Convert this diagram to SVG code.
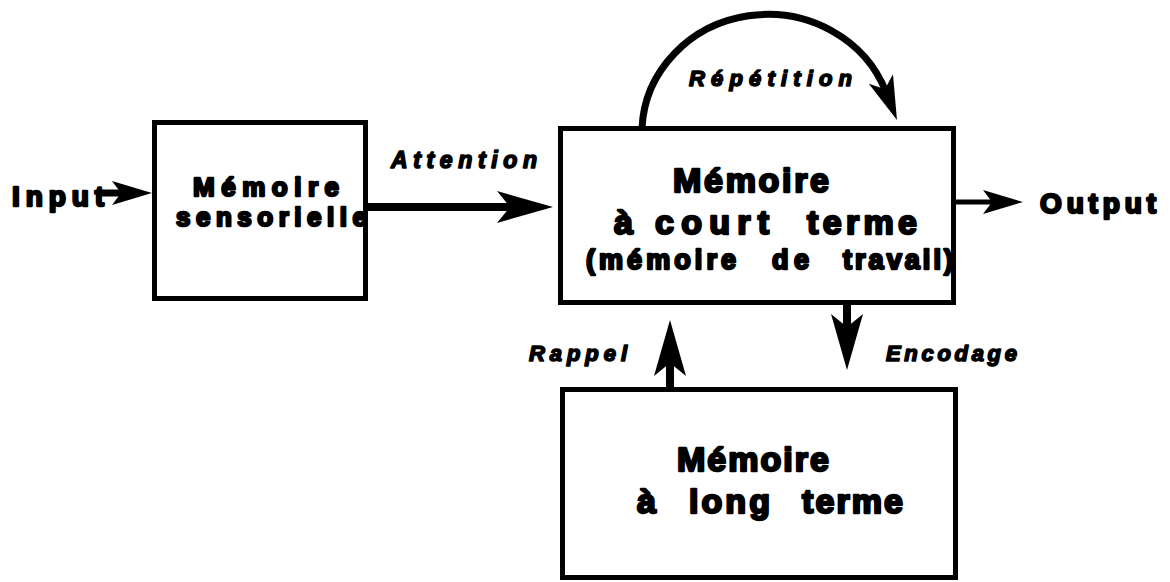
<svg xmlns="http://www.w3.org/2000/svg" width="1170" height="582" viewBox="0 0 1170 582">
<style>
.box{fill:#fff;stroke:#000;stroke-width:5}
.t{font-family:"Liberation Sans",Arial,Helvetica,sans-serif;font-weight:bold;fill:#000;stroke:#000;stroke-width:2.4;stroke-linejoin:round}
.i{font-style:italic;stroke-width:1.6}
.ln{fill:none;stroke:#000}
</style>
<defs>
<marker id="ahBig" markerUnits="userSpaceOnUse" viewBox="0 0 56 32" refX="16" refY="16" markerWidth="56" markerHeight="32" orient="auto">
<path d="M0,0 L56,16 L0,32 L13,16 Z" fill="#000"/>
</marker>
<marker id="ahMid" markerUnits="userSpaceOnUse" viewBox="0 0 44 26" refX="14" refY="13" markerWidth="44" markerHeight="26" orient="auto">
<path d="M0,0 L44,13 L0,26 L11,13 Z" fill="#000"/>
</marker>
<marker id="ahSmall" markerUnits="userSpaceOnUse" viewBox="0 0 40 24" refX="12" refY="12" markerWidth="40" markerHeight="24" orient="auto">
<path d="M0,0 L40,12 L0,24 L9,12 Z" fill="#000"/>
</marker>
</defs>
<rect width="1170" height="582" fill="#fff"/>

<g id="connectors">
<path class="ln" d="M102,193 H124" stroke-width="7" marker-end="url(#ahSmall)"/>
<path class="ln" d="M368,207 H513" stroke-width="8" marker-end="url(#ahBig)"/>
<path class="ln" d="M955,202 H995" stroke-width="5" marker-end="url(#ahSmall)"/>
<path class="ln" d="M642,128 A126,119 0 0 1 886,92" stroke-width="7" marker-end="url(#ahMid)"/>
<path class="ln" d="M847,303 V330" stroke-width="8" marker-end="url(#ahBig)"/>
<path class="ln" d="M670,387 V360" stroke-width="8" marker-end="url(#ahBig)"/>
</g>

<g id="sensory">
<rect class="box" x="154.5" y="122.5" width="211" height="176"/>
<text class="t" font-size="26"><tspan x="193" y="196" textLength="146" lengthAdjust="spacing">Mémoire</tspan><tspan x="176" y="226" textLength="191" lengthAdjust="spacing">sensorielle</tspan></text>
</g>

<g id="stm">
<rect class="box" x="560.5" y="128.5" width="393" height="174"/>
<text class="t" font-size="34"><tspan x="673" y="192" textLength="156" lengthAdjust="spacing">Mémoire</tspan></text>
<text class="t" font-size="34"><tspan x="614" y="234">à</tspan><tspan x="655" y="234" textLength="114" lengthAdjust="spacing">court</tspan><tspan x="807" y="234" textLength="110" lengthAdjust="spacing">terme</tspan></text>
<text class="t" font-size="27"><tspan x="586" y="269" textLength="150" lengthAdjust="spacing">(mémoire</tspan><tspan x="772" y="269" textLength="37" lengthAdjust="spacing">de</tspan><tspan x="843" y="269" textLength="110" lengthAdjust="spacing">travail)</tspan></text>
</g>

<g id="ltm">
<rect class="box" x="562.5" y="389.5" width="393" height="188"/>
<text class="t" font-size="34"><tspan x="677" y="471" textLength="152" lengthAdjust="spacing">Mémoire</tspan></text>
<text class="t" font-size="34"><tspan x="637" y="513">à</tspan><tspan x="689" y="513" textLength="81" lengthAdjust="spacing">long</tspan><tspan x="802" y="513" textLength="101" lengthAdjust="spacing">terme</tspan></text>
</g>

<g id="labels">
<text class="t" font-size="28"><tspan x="12" y="206" textLength="92" lengthAdjust="spacing">Input</tspan></text>
<text class="t" font-size="28"><tspan x="1040" y="213" textLength="116" lengthAdjust="spacing">Output</tspan></text>
<text class="t i" font-size="23"><tspan x="391" y="168" textLength="146" lengthAdjust="spacing">Attention</tspan></text>
<text class="t i" font-size="22"><tspan x="689" y="86" textLength="163" lengthAdjust="spacing">Répétition</tspan></text>
<text class="t i" font-size="22"><tspan x="529" y="361" textLength="98" lengthAdjust="spacing">Rappel</tspan></text>
<text class="t i" font-size="22"><tspan x="886" y="361" textLength="131" lengthAdjust="spacing">Encodage</tspan></text>
</g>
</svg>
